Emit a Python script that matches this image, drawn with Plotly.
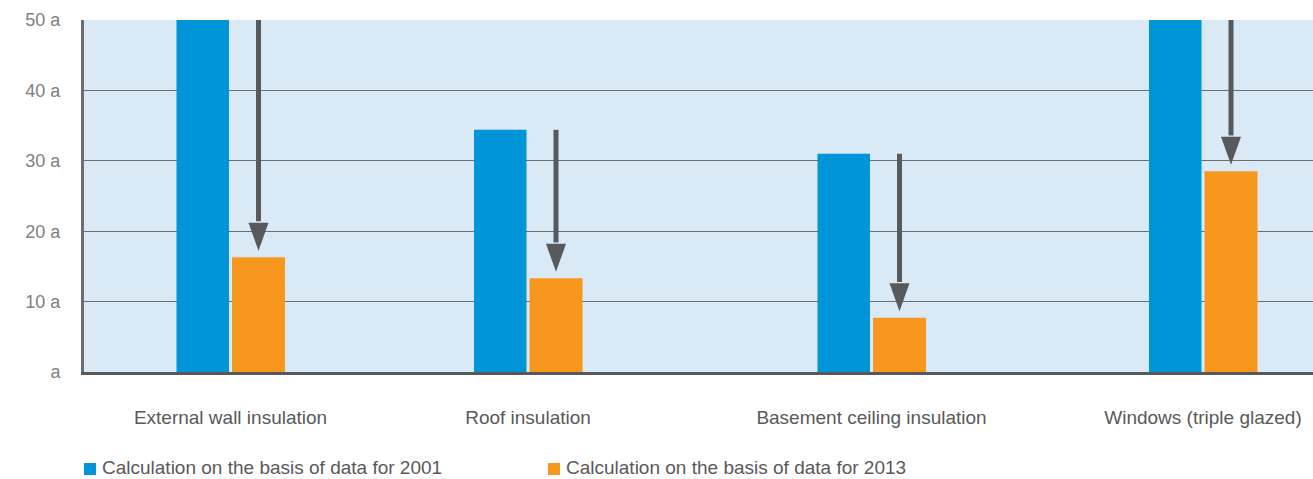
import plotly.graph_objects as go

# Service-life figures (years) per refurbishment measure
categories = [
    "External wall insulation",
    "Roof insulation",
    "Basement ceiling insulation",
    "Windows (triple glazed)",
]
series_2001_name = "Calculation on the basis of data for 2001"
series_2013_name = "Calculation on the basis of data for 2013"
values_2001 = [50, 34.4, 31.0, 50]
values_2013 = [16.3, 13.3, 7.7, 28.5]

y_tick_values = [0, 10, 20, 30, 40, 50]
y_tick_labels = ["a", "10 a", "20 a", "30 a", "40 a", "50 a"]

# Layout: horizontal placement of each category group (axis units = px)
group_pos = [146.5, 444, 787.5, 1119]
x_span = [0, 1229]

BLUE = "#0095d9"
ORANGE = "#f7971e"
ARROW = "#58595b"
BG = "#d9e9f5"
GRID = "#6d6e71"
TEXT = "#595959"
FONT = "Liberation Sans, Arial, Helvetica, sans-serif"

W, H = 1313, 479
M_L, M_R, M_T, M_B = 84, 0, 20, 107
PLOT_W = W - M_L - M_R
PLOT_H = H - M_T - M_B

fig = go.Figure()
fig.add_trace(go.Bar(
    x=group_pos, y=values_2001, name=series_2001_name,
    marker=dict(color=BLUE, line=dict(width=0)),
    width=52.5, offset=-54, showlegend=False,
))
fig.add_trace(go.Bar(
    x=group_pos, y=values_2013, name=series_2013_name,
    marker=dict(color=ORANGE, line=dict(width=0)),
    width=53, offset=1.5, showlegend=False,
))

# Downward arrows from the 2001 level to the 2013 level over each orange bar
px_per_unit = PLOT_H / 50.0
head_len = 28 / px_per_unit
gap = 6.5 / px_per_unit
half_w = 10
for xc, top, low in zip(group_pos, values_2001, values_2013):
    xa = xc + 1.5 + 53 / 2
    tip = low + gap
    base = tip + head_len
    fig.add_shape(type="line", xref="x", yref="y",
                  x0=xa, x1=xa, y0=top, y1=base + 0.2,
                  line=dict(color=ARROW, width=5))
    fig.add_shape(type="path", xref="x", yref="y",
                  path=f"M {xa - half_w},{base} L {xa + half_w},{base} L {xa},{tip} Z",
                  fillcolor=ARROW, line=dict(width=0))


# Key below the chart: colour swatch followed by the series name
def px_x(px):
    return (px - M_L) / PLOT_W


def px_y(py):
    return (H - M_B - py) / PLOT_H


for left, color, label in [(84, BLUE, series_2001_name), (548, ORANGE, series_2013_name)]:
    fig.add_shape(type="rect", xref="paper", yref="paper",
                  x0=px_x(left), x1=px_x(left + 12),
                  y0=px_y(475), y1=px_y(463),
                  fillcolor=color, line=dict(width=0), layer="above")
    fig.add_annotation(xref="paper", yref="paper",
                       x=px_x(left + 17), y=px_y(478.5),
                       xanchor="left", yanchor="bottom",
                       text=label, showarrow=False, borderpad=0,
                       font=dict(family=FONT, size=19, color=TEXT))

fig.update_layout(
    width=W, height=H,
    margin=dict(l=M_L, r=M_R, t=M_T, b=M_B, autoexpand=False),
    paper_bgcolor="white",
    plot_bgcolor=BG,
    font=dict(family=FONT, size=19, color=TEXT),
    barmode="overlay",
    showlegend=False,
    xaxis=dict(
        range=x_span,
        tickmode="array", tickvals=group_pos, ticktext=categories,
        showgrid=False, zeroline=False,
        showline=True, linecolor=ARROW, linewidth=3,
        ticks="", ticklabelstandoff=26,
        tickfont=dict(family=FONT, size=19, color=TEXT),
        automargin=False,
        fixedrange=True,
    ),
    yaxis=dict(
        range=[0, 50],
        tickmode="array", tickvals=y_tick_values, ticktext=y_tick_labels,
        showgrid=True, gridcolor=GRID, gridwidth=1,
        zeroline=False,
        showline=True, linecolor=GRID, linewidth=3,
        ticks="", ticklabelstandoff=17,
        tickfont=dict(family=FONT, size=18, color="#808080"),
        automargin=False,
        fixedrange=True,
    ),
)

fig.write_html("out.html")
